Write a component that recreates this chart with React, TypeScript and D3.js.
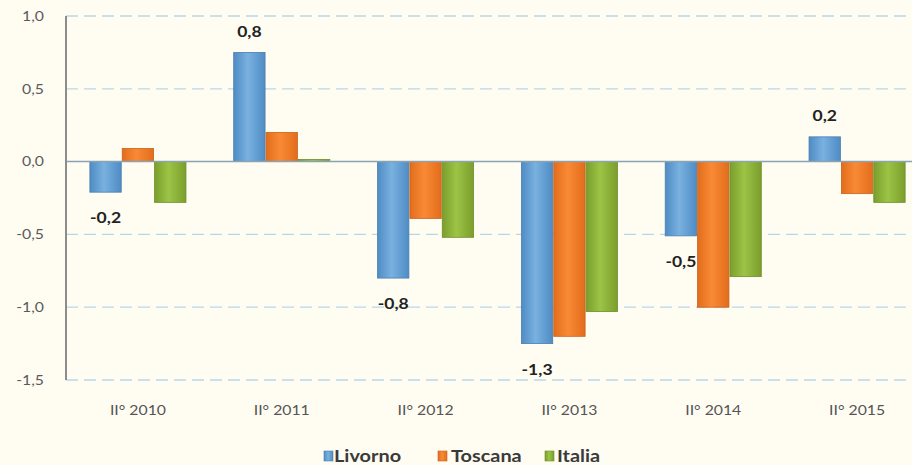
import React from "react";
import * as d3 from "d3";

const categories = ["II° 2010", "II° 2011", "II° 2012", "II° 2013", "II° 2014", "II° 2015"];
const seriesNames = ["Livorno", "Toscana", "Italia"];
const livorno = [-0.21, 0.75, -0.8, -1.25, -0.51, 0.17];
const toscana = [0.09, 0.2, -0.39, -1.2, -1.0, -0.22];
const italia = [-0.28, 0.015, -0.52, -1.03, -0.79, -0.28];
const yTicks = [1.0, 0.5, 0.0, -0.5, -1.0, -1.5];

const width = 912;
const height = 465;
const stretch = 1.17;

const colors: Record<string, { dark: string; mid: string; edge: string }> = {
  Livorno: { dark: "#4f8cc4", mid: "#79b1e0", edge: "#4a7fb0" },
  Toscana: { dark: "#e26d1c", mid: "#f98a35", edge: "#c9621c" },
  Italia: { dark: "#7a9e2c", mid: "#9cc446", edge: "#6f8f2a" },
};

const fmt = (v: number) => v.toFixed(1).replace(".", ",");

// text drawn slightly wider, like the stretched original
const SText = ({ x, y, anchor = "start", size, weight = "normal", fill, children }: any) => (
  <text transform={`translate(${x},${y}) scale(${stretch},1)`} dy="0.35em" textAnchor={anchor}
    fontSize={size} fontWeight={weight} fill={fill}>
    {children}
  </text>
);

const App = () => {
  const values: Record<string, number[]> = { Livorno: livorno, Toscana: toscana, Italia: italia };

  const x = d3.scaleBand<string>().domain(categories).range([66, 929]).paddingInner(0.325).paddingOuter(0.1625);
  const xs = d3.scaleBand<string>().domain(seriesNames).range([0, x.bandwidth()]);
  const y = d3.scaleLinear().domain([-1.5, 1.0]).range([380, 16]);

  const legendItems = [
    { name: "Livorno", sx: 324, tx: 334 },
    { name: "Toscana", sx: 438, tx: 451 },
    { name: "Italia", sx: 545, tx: 557 },
  ];

  return (
    <div style={{ position: "fixed", left: 0, top: 0 }}>
      <svg width={width} height={height} style={{ display: "block", fontFamily: "Lato, 'Open Sans', sans-serif" }}>
        <defs>
          {seriesNames.map((s) => (
            <linearGradient key={s} id={"g-" + s} x1="0" x2="1" y1="0" y2="0">
              <stop offset="0%" stopColor={colors[s].dark} />
              <stop offset="45%" stopColor={colors[s].mid} />
              <stop offset="100%" stopColor={colors[s].dark} />
            </linearGradient>
          ))}
        </defs>
        <rect x={0} y={0} width={width} height={height} fill="#fffcf2" />

        {/* gridlines */}
        {yTicks.filter((t) => t !== 0).map((t) => (
          <line key={t} x1={66} x2={width} y1={y(t)} y2={y(t)} stroke="#b9d6e8" strokeWidth={1.3} strokeDasharray="12,6" />
        ))}

        {/* y tick labels */}
        {yTicks.map((t) => (
          <SText key={t} x={44} y={y(t)} anchor="end" size={13.5} fill="#5a5a5a">
            {fmt(t)}
          </SText>
        ))}

        {/* bars */}
        {categories.map((c, i) => (
          <g key={c} transform={`translate(${x(c)},0)`}>
            {seriesNames.map((s) => {
              const v = values[s][i];
              const y0 = y(Math.max(0, v));
              const h = Math.abs(y(v) - y(0));
              return (
                <rect key={s} x={xs(s)! + 0.5} y={y0} width={xs.bandwidth() - 1} height={Math.max(h, 1)}
                  fill={`url(#g-${s})`} stroke={colors[s].edge} strokeWidth={0.8} />
              );
            })}
          </g>
        ))}

        {/* zero line */}
        <line x1={66} x2={width} y1={y(0)} y2={y(0)} stroke="#8aa2b2" strokeWidth={1.5} />
        {/* y axis line */}
        <line x1={66} x2={66} y1={y(1.0)} y2={y(-1.5)} stroke="#8c8c8c" strokeWidth={2} />

        {/* data labels for Livorno */}
        {categories.map((c, i) => {
          const v = livorno[i];
          const cx = x(c)! + xs("Livorno")! + xs.bandwidth() / 2;
          const ly = v >= 0 ? y(v) - 21 : y(v) + 26;
          return (
            <SText key={c} x={cx} y={ly} anchor="middle" size={15} weight="bold" fill="#222">
              {fmt(v)}
            </SText>
          );
        })}

        {/* x labels */}
        {categories.map((c) => (
          <SText key={c} x={x(c)! + x.bandwidth() / 2} y={410} anchor="middle" size={13.5} fill="#555">
            {c}
          </SText>
        ))}

        {/* legend */}
        {legendItems.map((l) => (
          <g key={l.name}>
            <rect x={l.sx} y={451} width={9} height={10} fill={`url(#g-${l.name})`} stroke={colors[l.name].edge} strokeWidth={0.6} />
            <SText x={l.tx} y={456} size={17} weight="bold" fill="#3a3a3a">
              {l.name}
            </SText>
          </g>
        ))}
      </svg>
    </div>
  );
};

export default App;
